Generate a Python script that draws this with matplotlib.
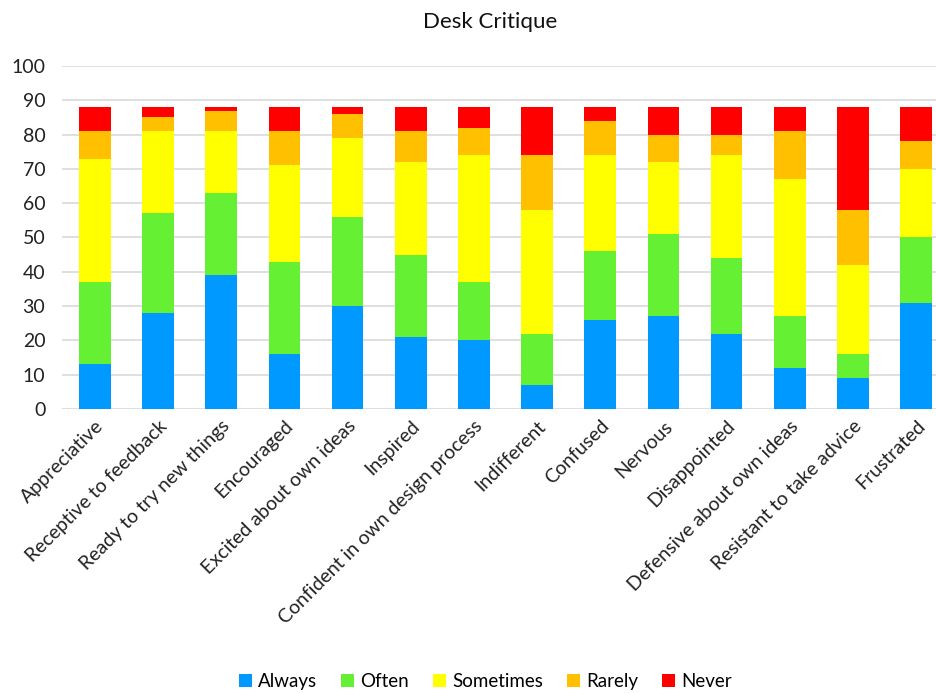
import numpy as np
import matplotlib.pyplot as plt

# ---- data ----
categories = ["Appreciative", "Receptive to feedback", "Ready to try new things",
              "Encouraged", "Excited about own ideas", "Inspired",
              "Confident in own design process", "Indifferent", "Confused",
              "Nervous", "Disappointed", "Defensive about own ideas",
              "Resistant to take advice", "Frustrated"]
always = [13, 28, 39, 16, 30, 21, 20, 7, 26, 27, 22, 12, 9, 31]
often = [24, 29, 24, 27, 26, 24, 17, 15, 20, 24, 22, 15, 7, 19]
sometimes = [36, 24, 18, 28, 23, 27, 37, 36, 28, 21, 30, 40, 26, 20]
rarely = [8, 4, 6, 10, 7, 9, 8, 16, 10, 8, 6, 14, 16, 8]
never = [7, 3, 1, 7, 2, 7, 6, 14, 4, 8, 8, 7, 30, 10]

series_names = ["Always", "Often", "Sometimes", "Rarely", "Never"]
series = [always, often, sometimes, rarely, never]
colors = ["#0099FF", "#66F033", "#FFFF00", "#FFC000", "#FF0000"]

plt.rcParams['font.family'] = ['Lato', 'DejaVu Sans']

fig = plt.figure(figsize=(9.37, 6.93), dpi=100)
ax = fig.add_axes([62 / 937, 1 - 409 / 693, 875 / 937, 343 / 693])

x = np.arange(len(categories))
bottom = np.zeros(len(categories))
for name, vals, c in zip(series_names, series, colors):
    ax.bar(x, vals, width=0.5, bottom=bottom, color=c, label=name, zorder=3)
    bottom += np.array(vals)

ax.set_ylim(0, 100)
ax.set_xlim(-0.52, 13.33)
ax.set_yticks(range(0, 101, 10))
ax.grid(axis='y', color='#D9D9D9', linewidth=1.2, zorder=0)
ax.tick_params(length=0, labelsize=14, colors='#222222')
ax.tick_params(axis='y', pad=12)
ax.tick_params(axis='x', pad=6)
for s in ax.spines.values():
    s.set_visible(False)

ax.set_xticks(x)
ax.set_xticklabels(categories, rotation=45, ha='right', rotation_mode='anchor')

fig.text(0.523, 0.968, "Desk Critique", ha='center', va='center', fontsize=16, color='#111111')

fig.legend(loc='center', bbox_to_anchor=(0.518, 0.017), ncol=5, frameon=False,
           fontsize=13.5, handlelength=0.7, handleheight=0.7, handletextpad=0.3,
           columnspacing=1.3)

fig.savefig('out.png', dpi=100)
